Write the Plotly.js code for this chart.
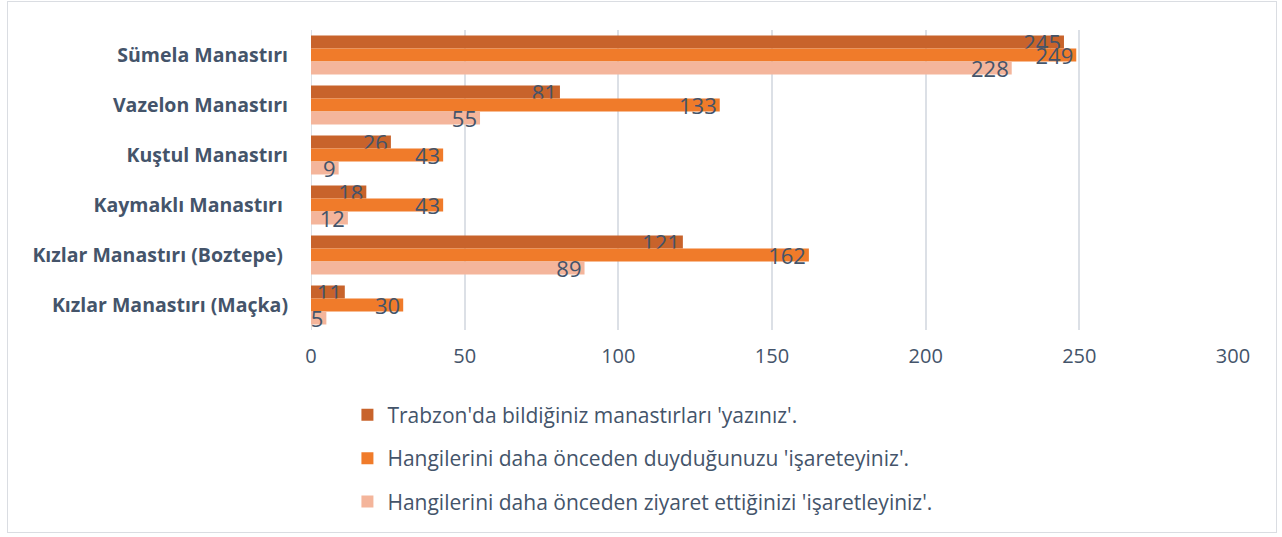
<!DOCTYPE html>
<html>
<head>
<meta charset="utf-8">
<script src="https://cdn.plot.ly/plotly-3.0.1.min.js"></script>
<style>
  html, body { margin:0; padding:0; background:#fff; }
  #wrap { position:relative; width:1282px; height:537px; }
  #chart { width:1282px; height:537px; }
  #frame { position:absolute; left:7px; top:1px; width:1270px; height:532px; border:1.5px solid #DADDE2; box-sizing:border-box; pointer-events:none; }
</style>
</head>
<body>
<div id="wrap"><div id="chart"></div><div id="frame"></div></div>
<script>
const categories = [
  "Sümela Manastırı",
  "Vazelon Manastırı",
  "Kuştul Manastırı",
  "Kaymaklı Manastırı\u00a0",
  "Kızlar Manastırı (Boztepe)\u00a0",
  "Kızlar Manastırı (Maçka)"
];
const seriesNames = [
  "Trabzon'da bildiğiniz manastırları 'yazınız'.",
  "Hangilerini daha önceden duyduğunuzu 'işareteyiniz'.",
  "Hangilerini daha önceden ziyaret ettiğinizi 'işaretleyiniz'."
];
const yazinizValues = [245, 81, 26, 18, 121, 11];
const duydunuzValues = [249, 133, 43, 43, 162, 30];
const ziyaretValues = [228, 55, 9, 12, 89, 5];
const seriesColors = ["#C8632B", "#F07B2A", "#F4B59B"];
const xTicks = [0, 50, 100, 150, 200, 250, 300];

const allValues = [yazinizValues, duydunuzValues, ziyaretValues];
const labelColor = "#44546A";

const traces = allValues.map((vals, i) => ({
  type: "bar",
  orientation: "h",
  name: seriesNames[i],
  y: categories,
  x: vals,
  text: vals.map(String),
  textposition: "inside",
  insidetextanchor: "end",
  constraintext: "none",
  textangle: 0,
  insidetextfont: { family: "Open Sans, sans-serif", size: 22, color: labelColor },
  marker: { color: seriesColors[i] },
  legendgroup: "g" + i,
  cliponaxis: false,
  hoverinfo: "x+y"
}));

const layout = {
  width: 1282,
  height: 537,
  margin: { l: 311, r: 49, t: 30, b: 207, autoexpand: false },
  paper_bgcolor: "#ffffff",
  plot_bgcolor: "#ffffff",
  barmode: "group",
  bargap: 0.22,
  bargroupgap: 0,
  font: { family: "Open Sans, sans-serif", color: labelColor },
  xaxis: {
    range: [0, 300],
    tickvals: xTicks,
    ticktext: xTicks.map(String),
    showgrid: true,
    gridcolor: "#DCE0E6",
    gridwidth: 2,
    zeroline: false,
    showline: false,
    ticks: "",
    automargin: false,
    ticklabelstandoff: 12,
    tickfont: { family: "Open Sans, sans-serif", size: 20, color: labelColor },
    fixedrange: true
  },
  yaxis: {
    autorange: "reversed",
    showgrid: false,
    zeroline: false,
    showline: false,
    ticks: "",
    automargin: false,
    ticklabelstandoff: 22,
    tickfont: { family: "Open Sans, sans-serif", size: 19.5, color: labelColor, weight: "bold" },
    fixedrange: true
  },
  showlegend: true,
  legend: {
    orientation: "v",
    xref: "container",
    yref: "container",
    x: 0.271,
    xanchor: "left",
    y: 0.265,
    yanchor: "top",
    traceorder: "grouped",
    tracegroupgap: 13,
    font: { family: "Open Sans, sans-serif", size: 21, color: labelColor },
    itemwidth: 30,
    bgcolor: "rgba(0,0,0,0)"
  },
  shapes: [{
    type: "line", xref: "x", yref: "paper", x0: 0, x1: 0, y0: 0, y1: 1,
    line: { color: "#DCE0E6", width: 2 }, layer: "below"
  }]
};

Plotly.newPlot("chart", traces, layout, { displayModeBar: false, staticPlot: true });
</script>
</body>
</html>
